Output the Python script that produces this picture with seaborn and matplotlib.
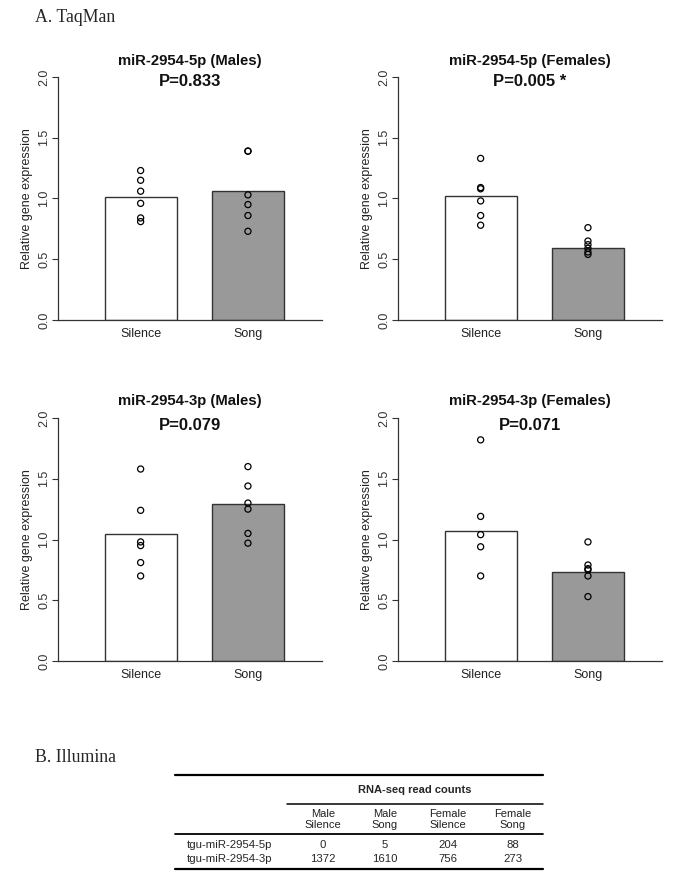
import matplotlib
matplotlib.use('Agg')
import matplotlib.pyplot as plt
from matplotlib.lines import Line2D
import seaborn as sns
import pandas as pd

# TaqMan values
groups = ['Silence', 'Song']
titles = ['miR-2954-5p (Males)', 'miR-2954-5p (Females)',
          'miR-2954-3p (Males)', 'miR-2954-3p (Females)']
pvals = ['P=0.833', 'P=0.005 *', 'P=0.079', 'P=0.071']

bar_means = [[1.01, 1.063], [1.02, 0.595], [1.045, 1.29], [1.067, 0.734]]

silence_pts = [
    [1.23, 1.15, 1.06, 0.96, 0.84, 0.81],
    [1.33, 1.09, 1.08, 0.98, 0.86, 0.78],
    [1.58, 1.24, 0.98, 0.95, 0.81, 0.70],
    [1.82, 1.19, 1.04, 0.94, 0.70],
]
song_pts = [
    [1.39, 1.39, 1.03, 0.95, 0.86, 0.73],
    [0.76, 0.65, 0.62, 0.59, 0.56, 0.54],
    [1.60, 1.44, 1.30, 1.25, 1.05, 0.97],
    [0.98, 0.79, 0.76, 0.75, 0.70, 0.53],
]

# Illumina table
tbl_cols = ['Male\nSilence', 'Male\nSong', 'Female\nSilence', 'Female\nSong']
tbl_rows = ['tgu-miR-2954-5p', 'tgu-miR-2954-3p']
counts_5p = [0, 5, 204, 88]
counts_3p = [1372, 1610, 756, 273]

W, H = 685, 886
sns.set_style('white')
plt.rcParams['font.family'] = ['Liberation Sans', 'DejaVu Sans']

fig = plt.figure(figsize=(W / 100, H / 100), dpi=100)


def fx(px):
    return px / W


def fy(py):
    return 1 - py / H


# panel boxes in pixels: left, right, top (y=2), bottom (y=0)
boxes = [(58, 322, 77, 320), (398, 662, 77, 320),
         (58, 322, 418, 661), (398, 662, 418, 661)]
title_y = [(61, 82), (61, 82), (401, 425), (401, 425)]

axcol = '#333333'
for i, (l, r, t, b) in enumerate(boxes):
    ax = fig.add_axes([fx(l), fy(b), (r - l) / W, (b - t) / H])
    sns.barplot(x=groups, y=bar_means[i], hue=groups,
                palette=['white', '#999999'], edgecolor=axcol,
                linewidth=1.0, width=0.67, legend=False, ax=ax)
    df = pd.DataFrame({
        'grp': ['Silence'] * len(silence_pts[i]) + ['Song'] * len(song_pts[i]),
        'val': silence_pts[i] + song_pts[i],
    })
    sns.stripplot(data=df, x='grp', y='val', jitter=False, size=4.4,
                  color='black', ax=ax)
    for coll in ax.collections:
        coll.set_facecolor('none')
        coll.set_edgecolor('black')
        coll.set_linewidth(0.9)
    ax.set_xlim(-0.77, 1.69)
    ax.set_ylim(0, 2.0)
    ax.set_yticks([0, 0.5, 1.0, 1.5, 2.0])
    ax.set_yticklabels(['0.0', '0.5', '1.0', '1.5', '2.0'],
                       rotation=90, va='center', fontsize=9, color='#333333')
    ax.tick_params(axis='y', length=4, width=0.8, color=axcol, pad=1.5, left=True)
    ax.tick_params(axis='x', length=0, pad=6, labelsize=9, labelcolor='#222222')
    ax.set_xlabel('')
    ax.set_ylabel('Relative gene expression', fontsize=9, color='#222222')
    ax.yaxis.set_label_coords(-0.095, 0.5)
    for s in ['top', 'right']:
        ax.spines[s].set_visible(False)
    for s in ['left', 'bottom']:
        ax.spines[s].set_color(axcol)
        ax.spines[s].set_linewidth(0.9)
    ax.patch.set_alpha(0)
    cx = (l + r) / 2
    fig.text(fx(cx), fy(title_y[i][0]), titles[i], ha='center', va='center',
             fontsize=10.7, fontweight='bold', color='#111111')
    fig.text(fx(cx), fy(title_y[i][1]), pvals[i], ha='center', va='center',
             fontsize=12, fontweight='bold', color='#111111')

serif = ['Liberation Serif', 'DejaVu Serif']
fig.text(fx(35), fy(17), 'A. TaqMan', family=serif, fontsize=12.8,
         ha='left', va='center')
fig.text(fx(35), fy(758), 'B. Illumina', family=serif, fontsize=12.8,
         ha='left', va='center')


# table
def hline(x0, x1, y, lw):
    fig.add_artist(Line2D([fx(x0), fx(x1)], [fy(y), fy(y)], color='black',
                          linewidth=lw, transform=fig.transFigure))


hline(175, 543, 775, 1.6)
hline(287, 543, 804, 1.1)
hline(175, 543, 834, 1.3)
hline(175, 543, 869, 1.6)

fig.text(fx(415), fy(790), 'RNA-seq read counts', ha='center', va='center',
         fontsize=8, fontweight='bold')
col_x = [323, 385, 448, 513]
for cxp, lab in zip(col_x, tbl_cols):
    fig.text(fx(cxp), fy(819.5), lab, ha='center', va='center', fontsize=8,
             linespacing=1.1, color='#222222')
for ry, name, vals in zip([845, 859], tbl_rows, [counts_5p, counts_3p]):
    fig.text(fx(187), fy(ry), name, ha='left', va='center', fontsize=8.2)
    for cxp, v in zip(col_x, vals):
        fig.text(fx(cxp), fy(ry), str(v), ha='center', va='center', fontsize=8.2)

fig.savefig('out.png', dpi=100)
